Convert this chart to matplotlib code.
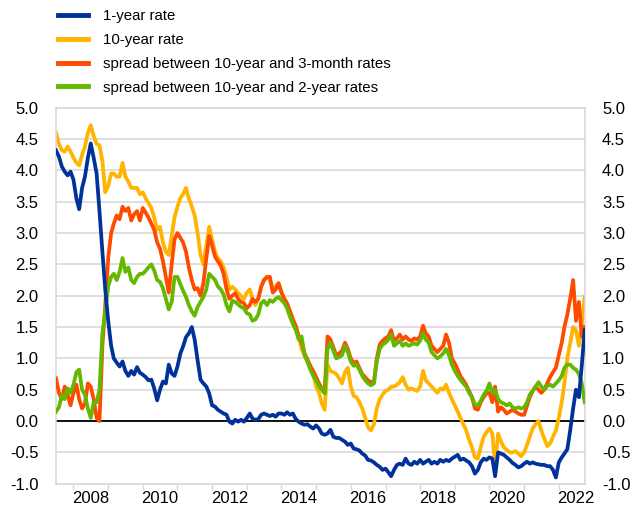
import matplotlib
matplotlib.use("Agg")
import matplotlib.pyplot as plt
import matplotlib.dates as mdates
import pandas as pd
import datetime as dt

plt.rcParams['font.family'] = ['Liberation Sans', 'DejaVu Sans']
plt.rcParams['axes.unicode_minus'] = False

# monthly observations, July 2007 .. October 2022
dates = pd.date_range('2007-07-01', periods=184, freq='MS')

one_year = [
    4.32, 4.22, 4.06, 3.98, 3.92, 3.98, 3.85, 3.55, 3.38, 3.72, 3.90, 4.20,
    4.43, 4.20, 3.95, 3.35, 2.70, 2.10, 1.60, 1.20, 1.00, 0.93, 0.87, 0.95,
    0.80, 0.72, 0.80, 0.74, 0.86, 0.77, 0.74, 0.70, 0.65, 0.66, 0.52, 0.33,
    0.50, 0.63, 0.60, 0.90, 0.76, 0.72, 0.87, 1.08, 1.19, 1.34, 1.40, 1.50,
    1.30, 0.97, 0.66, 0.60, 0.55, 0.44, 0.25, 0.23, 0.18, 0.15, 0.12, 0.10,
    -0.01, -0.04, 0.02, -0.01, 0.02, -0.01, 0.05, 0.12, 0.04, 0.02, 0.03, 0.10,
    0.12, 0.10, 0.08, 0.10, 0.07, 0.12, 0.12, 0.10, 0.14, 0.10, 0.12, 0.03,
    -0.01, -0.04, -0.06, -0.05, -0.09, -0.12, -0.07, -0.12, -0.20, -0.22, -0.20, -0.14,
    -0.25, -0.27, -0.27, -0.30, -0.33, -0.38, -0.36, -0.44, -0.45, -0.47, -0.52, -0.55,
    -0.62, -0.63, -0.66, -0.70, -0.73, -0.78, -0.76, -0.82, -0.88, -0.78, -0.70, -0.68,
    -0.70, -0.60, -0.68, -0.70, -0.65, -0.68, -0.62, -0.68, -0.65, -0.62, -0.68, -0.65,
    -0.68, -0.62, -0.65, -0.62, -0.64, -0.60, -0.57, -0.54, -0.62, -0.60, -0.63, -0.66,
    -0.72, -0.84, -0.78, -0.66, -0.60, -0.62, -0.58, -0.60, -0.88, -0.50, -0.52, -0.54,
    -0.58, -0.62, -0.67, -0.70, -0.74, -0.72, -0.68, -0.65, -0.68, -0.66, -0.68, -0.69,
    -0.70, -0.70, -0.72, -0.72, -0.78, -0.90, -0.66, -0.58, -0.52, -0.45, -0.15, 0.20,
    0.50, 0.38, 0.90, 1.45,
]

ten_year = [
    4.60, 4.42, 4.32, 4.30, 4.38, 4.30, 4.20, 4.12, 4.08, 4.25, 4.38, 4.60,
    4.72, 4.55, 4.42, 4.40, 4.15, 3.65, 3.75, 3.95, 3.95, 3.90, 3.90, 4.12,
    3.90, 3.82, 3.72, 3.72, 3.72, 3.62, 3.65, 3.55, 3.48, 3.40, 3.25, 3.05,
    3.10, 2.85, 2.70, 2.65, 2.95, 3.25, 3.42, 3.56, 3.62, 3.72, 3.55, 3.42,
    3.28, 3.00, 2.65, 2.50, 2.80, 3.10, 2.90, 2.70, 2.60, 2.55, 2.45, 2.30,
    2.10, 2.14, 2.10, 2.04, 2.00, 1.95, 2.05, 2.10, 1.95, 1.85, 1.95, 2.15,
    2.25, 2.30, 2.25, 2.10, 2.15, 2.20, 2.05, 1.95, 1.85, 1.75, 1.62, 1.50,
    1.35, 1.15, 1.05, 0.95, 0.85, 0.75, 0.55, 0.45, 0.28, 0.18, 0.90, 0.80,
    0.78, 0.75, 0.68, 0.60, 0.78, 0.85, 0.55, 0.40, 0.38, 0.30, 0.20, 0.05,
    -0.10, -0.15, -0.05, 0.20, 0.35, 0.42, 0.48, 0.50, 0.55, 0.55, 0.58, 0.62,
    0.70, 0.58, 0.50, 0.52, 0.50, 0.48, 0.55, 0.80, 0.65, 0.60, 0.55, 0.50,
    0.45, 0.52, 0.50, 0.58, 0.45, 0.35, 0.25, 0.15, 0.05, -0.05, -0.15, -0.30,
    -0.42, -0.58, -0.60, -0.42, -0.25, -0.18, -0.12, -0.20, -0.75, -0.20, -0.32, -0.42,
    -0.46, -0.50, -0.50, -0.48, -0.52, -0.56, -0.50, -0.38, -0.25, -0.12, -0.05, 0.00,
    -0.15, -0.28, -0.40, -0.36, -0.25, -0.15, 0.05, 0.30, 0.60, 1.00, 1.25, 1.50,
    1.45, 1.20, 1.55, 1.98,
]

spread_10y_3m = [
    0.68, 0.45, 0.35, 0.55, 0.42, 0.25, 0.45, 0.58, 0.35, 0.20, 0.28, 0.60,
    0.55, 0.35, 0.05, 0.00, 1.20, 1.85, 2.60, 3.00, 3.15, 3.28, 3.22, 3.42,
    3.35, 3.40, 3.20, 3.30, 3.35, 3.20, 3.40, 3.32, 3.25, 3.15, 3.05, 2.85,
    2.75, 2.55, 2.30, 2.05, 2.50, 2.90, 3.00, 2.92, 2.85, 2.70, 2.45, 2.25,
    2.10, 2.12, 2.00, 2.20, 2.60, 2.95, 2.80, 2.62, 2.55, 2.48, 2.35, 2.10,
    1.95, 2.00, 2.04, 1.95, 1.90, 1.88, 1.80, 1.85, 1.95, 1.90, 1.95, 2.14,
    2.25, 2.30, 2.30, 2.05, 2.10, 2.20, 2.05, 1.95, 1.88, 1.75, 1.62, 1.52,
    1.35, 1.25, 1.08, 0.98, 0.88, 0.80, 0.70, 0.60, 0.52, 0.48, 1.35, 1.30,
    1.18, 1.05, 1.08, 1.12, 1.25, 1.15, 1.00, 0.92, 0.95, 0.85, 0.75, 0.70,
    0.65, 0.62, 0.62, 1.00, 1.22, 1.28, 1.32, 1.35, 1.45, 1.28, 1.32, 1.38,
    1.30, 1.35, 1.30, 1.28, 1.32, 1.30, 1.35, 1.52, 1.40, 1.35, 1.20, 1.15,
    1.10, 1.15, 1.20, 1.38, 1.25, 1.00, 0.92, 0.82, 0.72, 0.65, 0.58, 0.48,
    0.38, 0.20, 0.18, 0.30, 0.38, 0.44, 0.45, 0.30, 0.55, 0.15, 0.22, 0.18,
    0.12, 0.15, 0.18, 0.15, 0.12, 0.10, 0.10, 0.25, 0.38, 0.48, 0.55, 0.50,
    0.45, 0.50, 0.60, 0.70, 0.78, 0.85, 1.05, 1.25, 1.50, 1.70, 1.95, 2.25,
    1.60, 1.90, 1.35, 1.50,
]

spread_10y_2y = [
    0.15, 0.22, 0.42, 0.35, 0.52, 0.45, 0.58, 0.78, 0.82, 0.50, 0.42, 0.20,
    0.05, 0.30, 0.30, 0.50, 1.40, 1.75, 2.15, 2.30, 2.35, 2.25, 2.38, 2.60,
    2.38, 2.45, 2.25, 2.20, 2.30, 2.35, 2.35, 2.40, 2.45, 2.50, 2.40, 2.25,
    2.22, 2.12, 1.95, 1.78, 1.90, 2.30, 2.30, 2.18, 2.08, 1.98, 1.85, 1.75,
    1.68, 1.82, 1.90, 1.98, 2.10, 2.35, 2.30, 2.25, 2.15, 2.10, 2.02, 1.85,
    1.75, 1.92, 1.90, 1.86, 1.82, 1.80, 1.72, 1.70, 1.60, 1.62, 1.70, 1.88,
    1.92, 1.85, 1.93, 1.90, 1.95, 1.98, 1.93, 1.88, 1.80, 1.66, 1.55, 1.45,
    1.30, 1.35, 1.05, 0.95, 0.82, 0.72, 0.65, 0.55, 0.50, 0.44, 1.15, 1.25,
    1.12, 1.00, 1.02, 1.05, 1.20, 1.10, 0.95, 0.88, 0.90, 0.82, 0.72, 0.65,
    0.60, 0.57, 0.60, 0.95, 1.15, 1.22, 1.25, 1.30, 1.38, 1.20, 1.24, 1.28,
    1.20, 1.24, 1.20, 1.22, 1.24, 1.22, 1.28, 1.40, 1.30, 1.25, 1.10, 1.05,
    1.00, 1.03, 1.08, 1.15, 1.05, 0.90, 0.80, 0.72, 0.66, 0.60, 0.55, 0.45,
    0.38, 0.27, 0.25, 0.32, 0.42, 0.48, 0.60, 0.45, 0.50, 0.35, 0.30, 0.28,
    0.25, 0.28, 0.22, 0.20, 0.22, 0.20, 0.22, 0.30, 0.42, 0.48, 0.55, 0.62,
    0.55, 0.50, 0.56, 0.58, 0.55, 0.60, 0.65, 0.72, 0.85, 0.90, 0.90, 0.85,
    0.82, 0.75, 0.60, 0.30,
]

labels = ['1-year rate', '10-year rate',
          'spread between 10-year and 3-month rates',
          'spread between 10-year and 2-year rates']
colors = ['#003299', '#FFB400', '#FF4B00', '#65B800']

y_ticks = [-1.0, -0.5, 0.0, 0.5, 1.0, 1.5, 2.0, 2.5, 3.0, 3.5, 4.0, 4.5, 5.0]
year_labels = [2008, 2010, 2012, 2014, 2016, 2018, 2020, 2022]

fig = plt.figure(figsize=(6.42, 5.08), dpi=100)
ax = fig.add_axes([56 / 642, 1 - 483.7 / 508, (584.7 - 56) / 642, (483.7 - 107.7) / 508])

grid_c = '#d9d9d9'
for y in y_ticks:
    ax.axhline(y, color=grid_c, lw=1.2, zorder=0.5)
ax.axhline(0, color='black', lw=1.3, zorder=1.5)

series = [one_year, ten_year, spread_10y_3m, spread_10y_2y]
zorders = [5, 2, 3, 4]
handles = []
for vals, c, lab, z in zip(series, colors, labels, zorders):
    h, = ax.plot(dates, vals, color=c, lw=2.7, label=lab, zorder=z,
                 solid_joinstyle='round')
    handles.append(h)

ax.set_xlim(dt.datetime(2007, 7, 1), dt.datetime(2022, 10, 1))
ax.set_ylim(-1.0, 5.0)
ax.set_yticks(y_ticks)
ax.set_yticklabels([f'{v:.1f}' for v in y_ticks])
ax.tick_params(axis='y', left=False, right=False, labelleft=True,
               labelright=True, labelsize=12, pad=9, colors='#000000')

ax.xaxis.set_major_locator(mdates.YearLocator(1))
ax.xaxis.set_major_formatter(plt.NullFormatter())
minor_pos = [mdates.date2num(dt.datetime(y, 7, 1)) for y in year_labels]
ax.set_xticks(minor_pos, minor=True)
ax.set_xticklabels([str(y) for y in year_labels], minor=True)
ax.tick_params(axis='x', which='major', length=4, width=1, color=grid_c,
               direction='out')
ax.tick_params(axis='x', which='minor', length=0, labelsize=12, pad=5)

for side in ['left', 'right', 'top', 'bottom']:
    ax.spines[side].set_color(grid_c)
    ax.spines[side].set_linewidth(1.2)

leg = fig.legend(handles=handles, labels=labels, loc='upper left',
                 bbox_to_anchor=(52 / 642, 1 - 3 / 508), frameon=False,
                 fontsize=10.8, handlelength=2.0, handletextpad=1.0,
                 labelspacing=0.66, borderaxespad=0.0)
for ln in leg.get_lines():
    ln.set_linewidth(3.5)

fig.savefig('out.png', dpi=100)
